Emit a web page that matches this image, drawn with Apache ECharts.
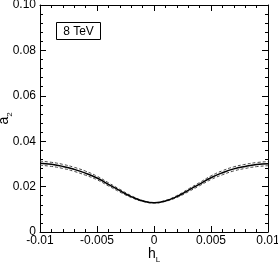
<!DOCTYPE html>
<html><head><meta charset="utf-8">
<script src="https://cdn.jsdelivr.net/npm/echarts@6/dist/echarts.min.js"></script>
<style>html,body{margin:0;padding:0;background:#fff}#c{width:278px;height:262px}</style>
</head><body><div id="c"></div>
<script>
const hL = [-0.010,-0.009,-0.008,-0.007,-0.006,-0.005,-0.004,-0.003,-0.002,-0.001,0,0.001,0.002,0.003,0.004,0.005,0.006,0.007,0.008,0.009,0.010];
const a2Center = [0.0303,0.0298,0.0289,0.0276,0.0259,0.0238,0.0210,0.0182,0.0156,0.0137,0.0129,0.0137,0.0156,0.0183,0.0211,0.0239,0.0261,0.0278,0.0289,0.0297,0.0301];
const a2Upper  = [0.0312,0.0307,0.0298,0.0285,0.0268,0.0246,0.0217,0.0188,0.0160,0.0139,0.0130,0.0139,0.0160,0.0189,0.0218,0.0247,0.0270,0.0287,0.0298,0.0306,0.0310];
const a2Lower  = [0.0294,0.0289,0.0280,0.0267,0.0250,0.0230,0.0203,0.0176,0.0152,0.0135,0.0128,0.0135,0.0152,0.0177,0.0204,0.0231,0.0252,0.0269,0.0280,0.0288,0.0292];
const xTicks = ['-0.01','-0.005','0','0.005','0.01'];
const yTicks = ['0','0.02','0.04','0.06','0.08','0.10'];
const label = '8 TeV';

const chart = echarts.init(document.getElementById('c'));
const font = 'Liberation Sans, Arial, sans-serif';
const pair = ys => hL.map((x,i)=>[x, ys[i]]);
const xFmt = v => xTicks[Math.round((v+0.01)/0.005)];
const yFmt = v => yTicks[Math.round(v/0.02)];
const axBase = {
  axisLine:{show:true,onZero:false,lineStyle:{color:'#000',width:1}},
  axisTick:{show:true,inside:true,length:6,lineStyle:{color:'#000'}},
  minorTick:{show:true,splitNumber:5,length:3,lineStyle:{color:'#000'}},
  splitLine:{show:false}
};
const rich = {
  a:{fontSize:14,fontFamily:font,color:'#000',lineHeight:20,verticalAlign:'middle'},
  s:{fontSize:8,fontFamily:font,color:'#000',lineHeight:9,verticalAlign:'bottom'}
};
chart.setOption({
  animation:false,
  graphic:[{type:'group',left:56,top:22,children:[
    {type:'rect',shape:{x:0,y:0,width:44,height:17},style:{fill:'#fff',stroke:'#000',lineWidth:1}},
    {type:'text',x:22,y:9,style:{text:label,font:'12px '+font,fill:'#000',align:'center',verticalAlign:'middle'}}
  ]}],
  grid:{left:40,right:10,top:5,bottom:30,containLabel:false,outerBoundsMode:'none'},
  xAxis:[
    Object.assign({type:'value',min:-0.01,max:0.01,interval:0.005,position:'bottom',
      name:'{a|h}{s|L}',nameLocation:'middle',nameGap:12,nameMoveOverlap:false,
      nameTextStyle:{verticalAlign:'top',rich:rich},
      axisLabel:{formatter:xFmt,fontSize:12,fontFamily:font,color:'#000',margin:3}},axBase),
    Object.assign({type:'value',min:-0.01,max:0.01,interval:0.005,position:'top',axisLabel:{show:false}},axBase)
  ],
  yAxis:[
    Object.assign({type:'value',min:0,max:0.1,interval:0.02,position:'left',
      name:'{a|a}{s|2}',nameLocation:'middle',nameGap:26,nameRotate:90,nameMoveOverlap:false,
      nameTextStyle:{rich:rich},
      axisLabel:{formatter:yFmt,fontSize:12,fontFamily:font,color:'#000',margin:4}},axBase),
    Object.assign({type:'value',min:0,max:0.1,interval:0.02,position:'right',axisLabel:{show:false}},axBase)
  ],
  series:[
    {type:'line',data:pair(a2Upper),smooth:true,symbol:'none',lineStyle:{color:'#444',width:1,type:[3,2]}},
    {type:'line',data:pair(a2Lower),smooth:true,symbol:'none',lineStyle:{color:'#444',width:1,type:[3,2]}},
    {type:'line',data:pair(a2Center),smooth:true,symbol:'none',lineStyle:{color:'#000',width:1.5}}
  ]
});
</script></body></html>
